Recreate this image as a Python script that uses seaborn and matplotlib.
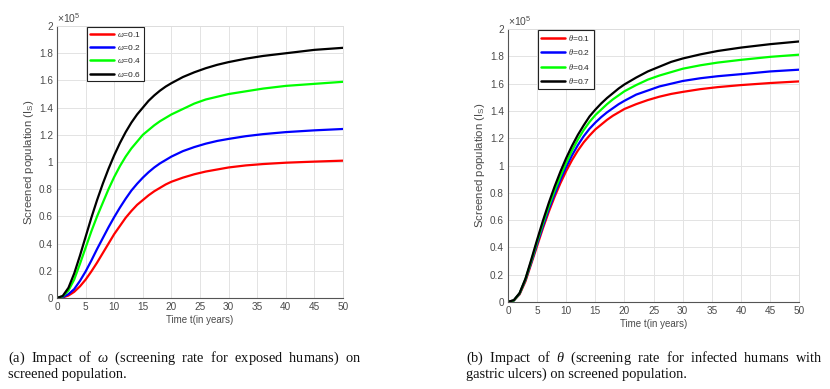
#!/usr/bin/env python3

import numpy as np
import pandas as pd
import matplotlib
matplotlib.use("Agg")
import matplotlib.pyplot as plt
import seaborn as sns

# time points (years)
t = [0, 1, 2, 3, 4, 5, 6, 7, 8, 9, 10, 11, 12, 13, 14, 15, 16, 17, 18, 19, 20,
     22, 24, 26, 28, 30, 33, 36, 40, 45, 50]

# panel (a): screened population (x1e5) for different omega
omega_labels = [r"$\omega$=0.1", r"$\omega$=0.2", r"$\omega$=0.4", r"$\omega$=0.6"]
omega_01 = [0, 0.004, 0.018, 0.045, 0.085, 0.135, 0.195, 0.26, 0.33, 0.40, 0.47, 0.53,
            0.59, 0.64, 0.685, 0.72, 0.755, 0.785, 0.81, 0.835, 0.855,
            0.885, 0.91, 0.93, 0.945, 0.96, 0.975, 0.985, 0.995, 1.003, 1.01]
omega_02 = [0, 0.006, 0.028, 0.065, 0.125, 0.195, 0.275, 0.36, 0.44, 0.52, 0.595, 0.665,
            0.73, 0.79, 0.84, 0.885, 0.925, 0.96, 0.99, 1.015, 1.04,
            1.08, 1.11, 1.135, 1.155, 1.17, 1.19, 1.205, 1.22, 1.233, 1.243]
omega_04 = [0, 0.012, 0.055, 0.135, 0.25, 0.37, 0.49, 0.60, 0.70, 0.80, 0.89, 0.97,
            1.04, 1.10, 1.15, 1.20, 1.235, 1.27, 1.30, 1.325, 1.35,
            1.39, 1.43, 1.46, 1.48, 1.50, 1.52, 1.54, 1.56, 1.575, 1.59]
omega_06 = [0, 0.015, 0.075, 0.18, 0.31, 0.45, 0.59, 0.72, 0.84, 0.95, 1.05, 1.14,
            1.22, 1.29, 1.35, 1.40, 1.45, 1.49, 1.525, 1.555, 1.58,
            1.625, 1.66, 1.69, 1.715, 1.735, 1.76, 1.78, 1.80, 1.825, 1.84]

# panel (b): screened population (x1e5) for different theta
theta_labels = [r"$\theta$=0.1", r"$\theta$=0.2", r"$\theta$=0.4", r"$\theta$=0.7"]
theta_01 = [0, 0.01, 0.055, 0.15, 0.28, 0.41, 0.54, 0.66, 0.77, 0.87, 0.96, 1.04,
            1.11, 1.17, 1.22, 1.265, 1.30, 1.335, 1.365, 1.39, 1.415,
            1.45, 1.48, 1.505, 1.525, 1.54, 1.56, 1.575, 1.59, 1.605, 1.617]
theta_02 = [0, 0.01, 0.06, 0.16, 0.29, 0.425, 0.555, 0.68, 0.79, 0.895, 0.99, 1.075,
            1.15, 1.215, 1.27, 1.315, 1.355, 1.39, 1.42, 1.45, 1.475,
            1.52, 1.55, 1.58, 1.60, 1.62, 1.64, 1.655, 1.67, 1.69, 1.703]
theta_04 = [0, 0.01, 0.062, 0.165, 0.30, 0.44, 0.575, 0.70, 0.815, 0.92, 1.02, 1.11,
            1.19, 1.26, 1.32, 1.37, 1.41, 1.45, 1.485, 1.515, 1.545,
            1.59, 1.63, 1.66, 1.685, 1.71, 1.735, 1.755, 1.775, 1.797, 1.813]
theta_07 = [0, 0.012, 0.065, 0.17, 0.31, 0.455, 0.595, 0.725, 0.845, 0.955, 1.055, 1.145,
            1.225, 1.295, 1.36, 1.41, 1.455, 1.495, 1.53, 1.565, 1.595,
            1.645, 1.69, 1.725, 1.76, 1.785, 1.815, 1.84, 1.865, 1.89, 1.91]

line_colors = ["#ff0000", "#0000ff", "#00ff00", "#000000"]
text_gray = "#4a4a4a"

x_ticks = [0, 5, 10, 15, 20, 25, 30, 35, 40, 45, 50]
y_ticks = [0, 0.2, 0.4, 0.6, 0.8, 1, 1.2, 1.4, 1.6, 1.8, 2]
y_ticklabels = ["0", "0.2", "0.4", "0.6", "0.8", "1", "1.2", "1.4", "1.6", "1.8", "2"]


def make_frame(labels, series):
    rows = []
    for lab, vals in zip(labels, series):
        rows.append(pd.DataFrame({"t": t, "value": vals, "param": lab}))
    return pd.concat(rows, ignore_index=True)


def style_axes(ax, df, labels):
    sns.lineplot(data=df, x="t", y="value", hue="param", hue_order=labels,
                 palette=line_colors, linewidth=1.6, ax=ax)
    ax.set_xlim(0, 50)
    ax.set_ylim(0, 2)
    ax.set_xticks(x_ticks)
    ax.set_yticks(y_ticks)
    ax.set_yticklabels(y_ticklabels)
    ax.grid(True, color="#e3e3e3", linewidth=0.7)
    ax.set_axisbelow(True)
    ax.tick_params(direction="in", length=2.5, width=0.6, colors=text_gray,
                   labelsize=7.2, pad=3)
    for side in ["left", "bottom"]:
        ax.spines[side].set_color("#555555")
        ax.spines[side].set_linewidth(0.8)
    for side in ["top", "right"]:
        ax.spines[side].set_color("#dddddd")
        ax.spines[side].set_linewidth(0.7)
    ax.set_xlabel("Time t(in years)", fontsize=7.0, color=text_gray, labelpad=2)
    ax.set_ylabel(r"Screened population (I$_{\rm S}$)", fontsize=8.2,
                  color=text_gray, labelpad=2)
    ax.text(0.0, 1.004, r"$\times\mathregular{10^{5}}$", transform=ax.transAxes,
            fontsize=7.5, color=text_gray, ha="left", va="bottom")
    leg = ax.legend(loc="upper left", bbox_to_anchor=(0.104, 0.996), fontsize=6,
                    frameon=True, fancybox=False, framealpha=1, edgecolor="#222222",
                    handlelength=2.9, handletextpad=0.35, borderpad=0.35,
                    labelspacing=0.5, borderaxespad=0)
    leg.get_frame().set_linewidth(0.8)
    for line in leg.get_lines():
        line.set_linewidth(1.8)


sns.set_style("white")
plt.rcParams["font.family"] = ["Liberation Sans", "DejaVu Sans"]
plt.rcParams["mathtext.fontset"] = "custom"
plt.rcParams["mathtext.rm"] = "Liberation Sans"
plt.rcParams["mathtext.it"] = "Liberation Serif:italic"

fig = plt.figure(figsize=(8.3, 3.89), dpi=100)
ax1 = fig.add_axes([0.0687, 0.234, 0.3446, 0.699])
ax2 = fig.add_axes([0.612, 0.224, 0.351, 0.701])

df_a = make_frame(omega_labels, [omega_01, omega_02, omega_04, omega_06])
df_b = make_frame(theta_labels, [theta_01, theta_02, theta_04, theta_07])
style_axes(ax1, df_a, omega_labels)
style_axes(ax2, df_b, theta_labels)

# captions
cap_kw = dict(fontsize=10.4, family="Liberation Serif", color="#111111", ha="left",
              va="baseline")
fig.text(8 / 830, 1 - 362 / 389,
         r"(a)  Impact  of  $\omega$  (screening  rate  for  exposed  humans)  on", **cap_kw)
fig.text(8 / 830, 1 - 378 / 389, "screened population.", **cap_kw)
fig.text(466 / 830, 1 - 362 / 389,
         r"(b)  Impact  of  $\theta$  (screening  rate  for  infected  humans  with", **cap_kw)
fig.text(466 / 830, 1 - 378 / 389, "gastric ulcers) on screened population.", **cap_kw)

fig.savefig("out.png", dpi=100)
